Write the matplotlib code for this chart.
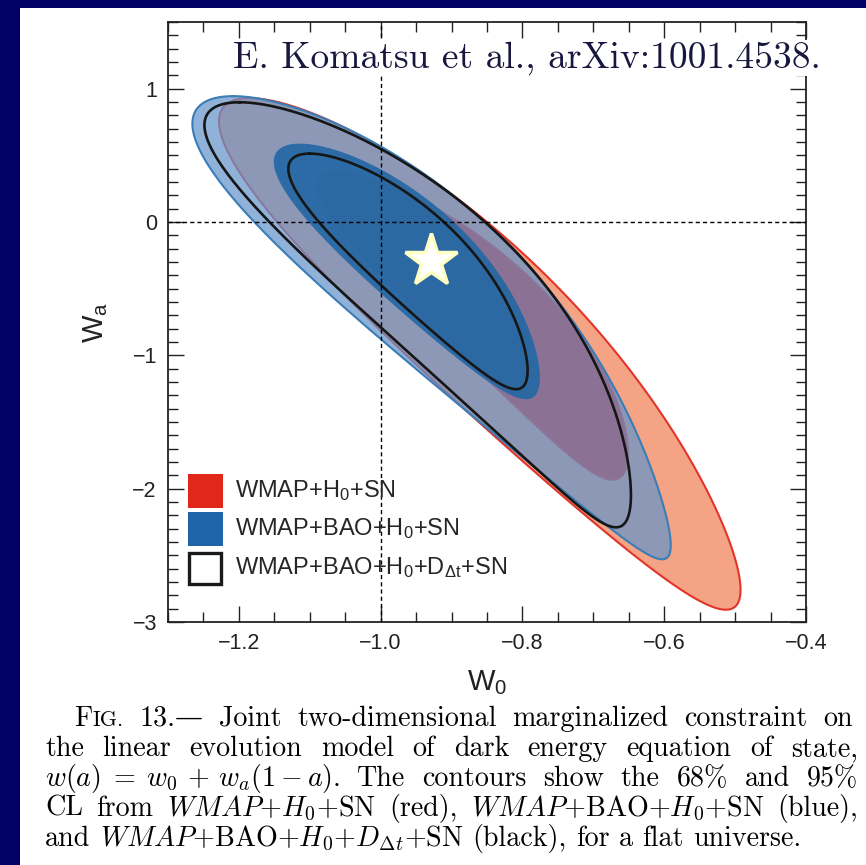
import numpy as np
import matplotlib.pyplot as plt
from matplotlib.patches import Rectangle
from matplotlib.ticker import MultipleLocator

plt.rcParams["font.family"] = "Liberation Sans"
plt.rcParams["mathtext.fontset"] = "custom"
plt.rcParams["mathtext.rm"] = "Liberation Sans"
plt.rcParams["mathtext.it"] = "Liberation Sans:italic"

# 68% and 95% CL contours, [68, 95]:
# top and bottom tip (w0, wa), half width, banana bend and taper of the band
red_top_w0 = [-1.062, -1.185]
red_top_wa = [0.374, 0.929]
red_bot_w0 = [-0.673, -0.513]
red_bot_wa = [-1.936, -2.908]
red_width = [0.1005, 0.1496]
red_bend = [0.040, 0.033]
red_taper = [0.28, 0.30]

blue_top_w0 = [-1.114, -1.208]
blue_top_wa = [0.588, 0.944]
blue_bot_w0 = [-0.795, -0.603]
blue_bot_wa = [-1.329, -2.530]
blue_width = [0.0989, 0.148]
blue_bend = [0.020, 0.035]
blue_taper = [0.32, 0.51]

black_top_w0 = [-1.100, -1.199]
black_top_wa = [0.513, 0.898]
black_bot_w0 = [-0.809, -0.668]
black_bot_wa = [-1.254, -2.290]
black_width = [0.0854, 0.141]
black_bend = [0.020, 0.055]
black_taper = [0.325, 0.454]

star_w0 = [-0.929]
star_wa = [-0.289]

legend_labels = [
    "WMAP+H$_\\mathrm{0}$+SN",
    "WMAP+BAO+H$_\\mathrm{0}$+SN",
    "WMAP+BAO+H$_\\mathrm{0}$+D$_{\\mathrm{\\Delta t}}$+SN",
]

caption_lines = [
    [[("F", 1.0), ("IG.", 0.78)], "13.\u2014", "Joint", "two-dimensional", "marginalized", "constraint", "on"],
    ["the", "linear", "evolution", "model", "of", "dark", "energy", "equation", "of", "state,"],
    ["$w(a)\\;=\\;w_0\\,+\\,w_a(1-a)$.", "The", "contours", "show", "the", "68%", "and", "95%"],
    ["CL", "from", "$WMAP$+$H_0$+SN", "(red),", "$WMAP$+BAO+$H_0$+SN", "(blue),"],
    ["and", "$WMAP$+BAO+$H_0$+$D_{\\Delta t}$+SN", "(black),", "for", "a", "flat", "universe."],
]


def contour(top_w0, top_wa, bot_w0, bot_wa, width, bend, taper, n=400):
    # ellipse through the two tips, bent and tapered into a banana
    t = np.linspace(0, 2 * np.pi, n)
    v = np.cos(t)
    mid = 0.5 * (top_w0 + bot_w0) + 0.5 * (top_w0 - bot_w0) * v + bend * (1 - v ** 2)
    x = mid + width * np.sin(t) * (1 + taper * v)
    y = 0.5 * (top_wa + bot_wa) + 0.5 * (top_wa - bot_wa) * v
    return x, y


def shape(prefix, i):
    g = globals()
    keys = ["top_w0", "top_wa", "bot_w0", "bot_wa", "width", "bend", "taper"]
    return contour(*[g[prefix + "_" + k][i] for k in keys])


W, H = 866, 865
fig = plt.figure(figsize=(W / 100, H / 100), dpi=100, facecolor="#000066")
fig.patches.append(Rectangle((20 / W, 0), 1, 1 - 8 / H, transform=fig.transFigure,
                             facecolor="white", edgecolor="none", zorder=-1))

ax = fig.add_axes([168 / W, 1 - 622 / H, (806 - 168) / W, 600 / H])

# red: WMAP+H0+SN
x, y = shape("red", 1)
ax.fill(x, y, facecolor="#F5A385", edgecolor="#E3342A", lw=1.5, zorder=1)
x, y = shape("red", 0)
ax.fill(x, y, facecolor="#F01E0A", edgecolor="#E3342A", lw=1.0, zorder=2)

# blue: WMAP+BAO+H0+SN, see-through over the red
x, y = shape("blue", 1)
ax.fill(x, y, facecolor="#6594CA", alpha=0.72, edgecolor="none", zorder=3)
ax.plot(x, y, color="#3A7DB7", lw=1.5, zorder=3)
x, y = shape("blue", 0)
ax.fill(x, y, facecolor="#2267A4", alpha=0.9, edgecolor="none", zorder=4)

# black: WMAP+BAO+H0+D_dt+SN
for i in range(2):
    x, y = shape("black", i)
    ax.plot(x, y, color="#161616", lw=1.9, zorder=5)

ax.axvline(-1.0, color="black", lw=1.0, ls=(0, (3, 2.2)), zorder=6)
ax.axhline(0.0, color="black", lw=1.0, ls=(0, (3, 2.2)), zorder=6)

ax.plot(star_w0, star_wa, marker="*", ms=40, mfc="white", mec="#FFFFC4", mew=2.5,
        ls="none", zorder=7)

ax.set_xlim(-1.3, -0.4)
ax.set_ylim(-3, 1.5)
ax.xaxis.set_major_locator(MultipleLocator(0.2))
ax.xaxis.set_minor_locator(MultipleLocator(0.05))
ax.yaxis.set_major_locator(MultipleLocator(1))
ax.yaxis.set_minor_locator(MultipleLocator(0.1))
ax.tick_params(which="both", direction="in", top=True, right=True, width=1.0,
               color="#222222", labelsize=15.5, labelcolor="#222222")
ax.tick_params(which="major", length=11.5, pad=8)
ax.tick_params(which="minor", length=7)
for s in ax.spines.values():
    s.set_linewidth(1.3)
    s.set_color("#222222")

ax.set_xlabel("W$_\\mathrm{0}$", fontsize=21, labelpad=10, color="#222222")
ax.set_ylabel("W$_\\mathrm{a}$", fontsize=21, labelpad=16, color="#222222")

# legend swatches
sw_tops = [0.2467, 0.1838, 0.1183]
sw_w, sw_h = 0.0549, 0.0567
faces = ["#E1261A", "#1F64A6", "white"]
for top, fc, lab in zip(sw_tops, faces, legend_labels):
    if fc == "white":
        ax.add_patch(Rectangle((0.031 + 0.0024, top - sw_h + 0.0025), sw_w - 0.0048, sw_h - 0.005,
                               transform=ax.transAxes, facecolor="white",
                               edgecolor="#1a1a1a", lw=2.4, zorder=8))
    else:
        ax.add_patch(Rectangle((0.031, top - sw_h), sw_w, sw_h, transform=ax.transAxes,
                               facecolor=fc, edgecolor="none", zorder=8))
    ax.text(0.105, top - sw_h / 2, lab, transform=ax.transAxes, fontsize=17,
            color="#262626", va="center", ha="left", zorder=8)

fig.text(233 / W, 1 - 58 / H, "E. Komatsu et al., arXiv:1001.4538.", fontsize=27,
         family="cmr10", color="#17173f", va="center", ha="left",
         bbox=dict(facecolor="white", edgecolor="none", pad=1), zorder=10)

# caption, justified like the journal text
renderer = fig.canvas.get_renderer()
cap_size = 20.2
bases = [726, 756, 786, 816, 846]
starts = [74, 45, 45, 45, 45]
ends = [853, 858, 858, 858, None]
for words, base, x0, x1 in zip(caption_lines, bases, starts, ends):
    rows = []
    for word in words:
        pieces = word if isinstance(word, list) else [(word, 1.0)]
        row = [fig.text(0, 1 - base / H, s, fontsize=cap_size * k,
                        family=["cmr10", "DejaVu Serif"], math_fontfamily="cm",
                        va="baseline", ha="left", color="black")
               for s, k in pieces]
        rows.append(row)
    widths = [[t.get_window_extent(renderer).width for t in row] for row in rows]
    total = sum(sum(w) for w in widths)
    if x1 is None:
        gap = 0.333 * cap_size * 100 / 72
    else:
        gap = (x1 - x0 - total) / (len(rows) - 1)
    x = x0
    for row, ws in zip(rows, widths):
        for t, w in zip(row, ws):
            t.set_x(x / W)
            x += w
        x += gap

fig.savefig("out.png", dpi=100, facecolor=fig.get_facecolor())
